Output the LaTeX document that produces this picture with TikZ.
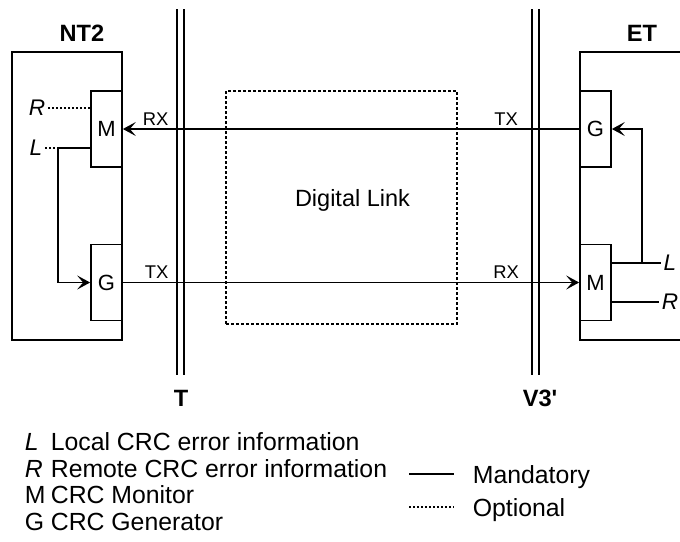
\documentclass[tikz,border=0pt]{standalone}
\usepackage{fontspec}
\setmainfont{Liberation Sans}
\usepackage{tikz}
\usetikzlibrary{arrows.meta, positioning}
\tikzstyle{unit} = [draw=black, rectangle, minimum width=15.5pt, minimum height=38pt, inner sep=0pt, font=\fontsize{11}{13}\selectfont]
\tikzstyle{station} = [draw=black, rectangle, minimum height=144pt, inner sep=0pt]
\tikzstyle{signal} = [-{Stealth[length=6.5pt, width=7pt, inset=3pt]}, draw=black]
\tikzstyle{optional} = [draw=black, dash pattern=on 1pt off 1pt]
\tikzstyle{port} = [font=\fontsize{9.2}{11}\selectfont, anchor=south, inner sep=1.5pt]
\tikzstyle{title} = [font=\bfseries\fontsize{11.8}{14}\selectfont]
\tikzstyle{flag} = [font=\itshape\fontsize{11.3}{13}\selectfont, inner sep=1pt]
\tikzstyle{legend} = [anchor=base west, inner sep=0pt, font=\fontsize{12.4}{14}\selectfont]

\begin{document}
\begin{tikzpicture}[x=0.5pt, y=-0.5pt, line width=0.85pt, text=black]
	\clip (0,0) rectangle (680,541);
	% NT2
	\node (NT2) [station, minimum width=55pt] at (67,196) {};
	\node (NT2label) [title] at (82,33) {NT2};
	\node (M1) [unit] at (106.5,129) {M};
	\node (G1) [unit] at (106.5,282.5) {G};
	% ET
	\node (ET) [station, minimum width=70pt] at (650,196) {};
	\node (ETlabel) [title] at (642,33) {ET};
	\node (G2) [unit] at (595.5,129) {G};
	\node (M2) [unit] at (595.5,282.5) {M};

	% reference points
	\foreach \x in {177,184,532,539}
		\draw (\x,9) -- (\x,375);
	\node (T) [title] at (181,398) {T};
	\node (V3) [title] at (540,398) {V3\textquotesingle};

	\node (link) [draw, line width=0.7pt, dash pattern=on 1.5pt off 1pt, minimum width=115.5pt, minimum height=116.5pt] at (341.5,207.5) {};
	\node (linklabel) [font=\fontsize{11.75}{14}\selectfont] at (352.5,200) {Digital Link};

	\draw [signal] (G2.west) -- node[port, pos=0.928] {RX} node[port, pos=0.16] {TX} (M1.east);
	\draw [signal] (G1.east) -- node[port, pos=0.074] {TX} node[port, pos=0.84] {RX} (M2.west);

	% CRC information
	\node (R1) [flag] at (37,108) {R};
	\node (L1) [flag] at (36,148) {L};
	\coordinate (Lbend1) at (58,148);
	\draw [optional] (R1) -- (R1 -| M1.west);
	\draw [optional] (L1) -- (Lbend1);
	\draw (M1.west |- Lbend1) -- (Lbend1);
	\draw [signal] (Lbend1) |- (G1.west);

	\node (L2) [flag] at (670,263) {L};
	\node (R2) [flag] at (670,302) {R};
	\coordinate (Lbend2) at (642,263);
	\draw (M2.east |- L2) -- (L2);
	\draw (M2.east |- R2) -- (R2);
	\draw [signal] (Lbend2) |- (G2.east);

	% legend
	\foreach \sym/\txt/\y [count=\i] in {{\itshape L}/Local CRC error information/450, {\itshape R}/Remote CRC error information/477, M/CRC Monitor/503, G/CRC Generator/530}{
		\node (key\i) [legend] at (24,\y) {\sym};
		\node (keytext\i) [legend] at (50,\y) {\txt};
	}
	\node (mandatory) [legend] at (472,483) {Mandatory};
	\node (optional) [legend] at (472,516) {Optional};
	\coordinate (mandA) at (409,474);
	\coordinate (mandB) at (454,474);
	\coordinate (optA) at (409,507);
	\coordinate (optB) at (454,507);
	\draw (mandA) -- (mandB);
	\draw [optional] (optA) -- (optB);
\end{tikzpicture}
\end{document}
